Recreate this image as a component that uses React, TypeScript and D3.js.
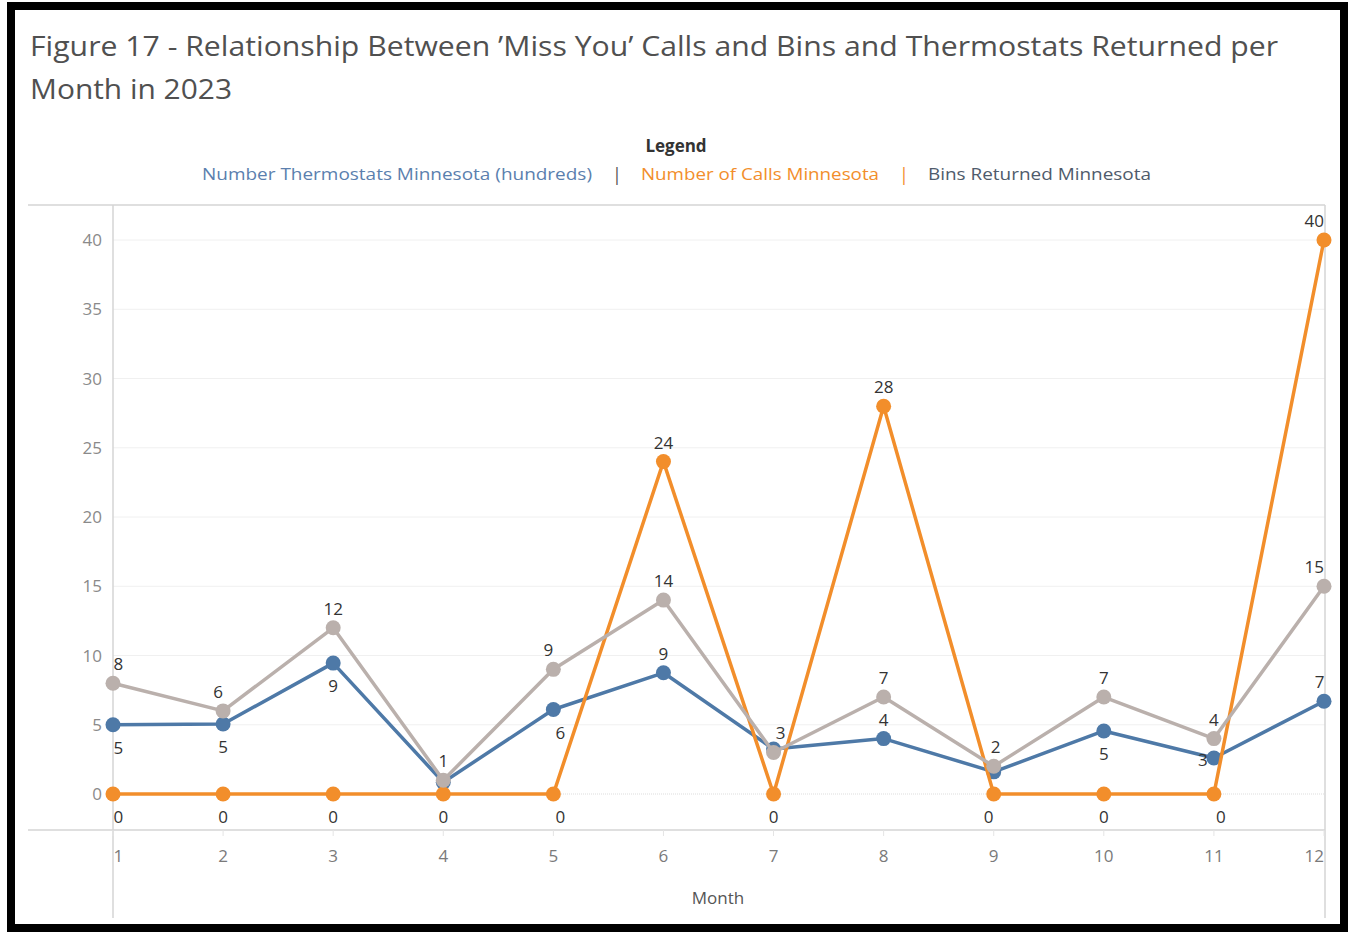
import * as d3 from "d3";

// chart data
const months = [1, 2, 3, 4, 5, 6, 7, 8, 9, 10, 11, 12];
const thermostats = [5.0, 5.05, 9.45, 0.85, 6.1, 8.75, 3.25, 4.0, 1.6, 4.55, 2.6, 6.7];
const calls = [0, 0, 0, 0, 0, 24, 0, 28, 0, 0, 0, 40];
const bins = [8, 6, 12, 1, 9, 14, 3, 7, 2, 7, 4, 15];
const yTicks = [0, 5, 10, 15, 20, 25, 30, 35, 40];

const titleLines = [
  "Figure 17 - Relationship Between \u2019Miss You\u2019 Calls and Bins and Thermostats Returned per",
  "Month in 2023",
];
const legendNames = [
  "Number Thermostats Minnesota (hundreds)",
  "Number of Calls Minnesota",
  "Bins Returned Minnesota",
];

// where each value label sits (Tableau-ish placement, null = hidden)
type Place = "above" | "below" | "left" | null;
const thermoPlace: Place[] = ["below", "below", "below", null, "below", "above", null, "above", null, "below", "left", "above"];
const callsPlace: Place[] = calls.map((v) => (v > 0 ? "above" : "below"));
const binsPlace: Place[] = bins.map(() => "above");
const thermoNudge = [0, 0, 0, 0, 7, 0, 0, 0, 0, 0, 0, 0];
const callsNudge = [0, 0, 0, 0, 7, 0, 0, 0, -5, 0, 7, 0];
const binsNudge = [0, -5, 0, 0, -5, 0, 7, 0, 2, 0, 0, 0];

const W = 1353;
const H = 932;
const PANE = { left: 113, right: 1325, top: 205, bottom: 830 };
const COLORS = { thermo: "#4e79a7", calls: "#f28e2b", bins: "#bab0ac" };
const FONT = "'Open Sans', 'DejaVu Sans', sans-serif";

interface Series {
  key: string;
  values: number[];
  color: string;
  place: Place[];
  nudge: number[];
}

function App() {
  const x = d3.scaleLinear().domain([1, 12]).range([PANE.left, PANE.right - 1]);
  const y = d3.scaleLinear().domain([0, 40]).range([794, 240]);

  const series: Series[] = [
    { key: "thermo", values: thermostats, color: COLORS.thermo, place: thermoPlace, nudge: thermoNudge },
    { key: "calls", values: calls, color: COLORS.calls, place: callsPlace, nudge: callsNudge },
    { key: "bins", values: bins, color: COLORS.bins, place: binsPlace, nudge: binsNudge },
  ];

  const line = d3
    .line<number>()
    .x((_, i) => x(months[i]))
    .y((d) => y(d));

  // keep labels inside the pane like Tableau does
  const clampX = (cx: number, text: string) => {
    const half = text.length * 5.4;
    return Math.max(PANE.left + half, Math.min(PANE.right - half, cx));
  };

  const labelFor = (s: Series, i: number) => {
    const p = s.place[i];
    if (!p) return null;
    const v = s.values[i];
    const text = String(Math.round(v));
    let lx = x(months[i]) + s.nudge[i];
    let ly = y(v);
    if (p === "above") ly -= 13;
    else if (p === "below") ly += 29;
    else {
      lx -= 11;
      ly += 8;
    }
    return (
      <text
        key={s.key + i}
        x={clampX(lx, text)}
        y={ly}
        textAnchor="middle"
        fontSize={17}
        fill="#333"
        fontFamily={FONT}
      >
        {text}
      </text>
    );
  };

  const legendX = [202, 641, 928];
  const legendW = [390, 238, 223];
  const legendColors = ["#5b7fae", "#f28e2b", "#4f5b6b"];
  const titleW = [1248, 202];

  return (
    <div style={{ position: "absolute", left: 0, top: 0 }}>
      <svg width={W} height={H} style={{ display: "block", background: "#fff" }}>
        {/* frame */}
        <rect x={0} y={0} width={W} height={H} fill="#fff" />
        <rect x={11} y={6} width={1333} height={922} fill="none" stroke="#000" strokeWidth={8} />

        {/* title */}
        {titleLines.map((t, i) => (
          <text
            key={i}
            x={30}
            y={56 + i * 43}
            fontSize={27}
            fill="#505050"
            fontFamily={FONT}
            textLength={titleW[i]}
            lengthAdjust="spacingAndGlyphs"
          >
            {t}
          </text>
        ))}

        {/* legend */}
        <text x={676} y={152} textAnchor="middle" fontSize={17} fontWeight="bold" fill="#333" fontFamily={FONT}>
          Legend
        </text>
        {legendNames.map((n, i) => (
          <text
            key={n}
            x={legendX[i]}
            y={180}
            fontSize={17}
            fill={legendColors[i]}
            fontFamily={FONT}
            textLength={legendW[i]}
            lengthAdjust="spacingAndGlyphs"
          >
            {n}
          </text>
        ))}
        <text x={617} y={181} textAnchor="middle" fontSize={18} fill="#555" fontFamily={FONT}>|</text>
        <text x={904} y={181} textAnchor="middle" fontSize={18} fill={COLORS.calls} fontFamily={FONT}>|</text>

        {/* grid */}
        {yTicks.map((t) => (
          <line
            key={t}
            x1={PANE.left}
            x2={PANE.right}
            y1={y(t)}
            y2={y(t)}
            stroke={t === 0 ? "#ddd" : "#f0f0f0"}
            strokeDasharray={t === 0 ? "1,1" : undefined}
          />
        ))}

        {/* pane borders & axes */}
        <line x1={28} x2={PANE.right} y1={PANE.top} y2={PANE.top} stroke="#d4d4d4" strokeWidth={1.5} />
        <line x1={28} x2={PANE.right} y1={PANE.bottom} y2={PANE.bottom} stroke="#d4d4d4" strokeWidth={1.5} />
        <line x1={PANE.left} x2={PANE.left} y1={PANE.top} y2={918} stroke="#d4d4d4" strokeWidth={1.5} />
        <line x1={PANE.right} x2={PANE.right} y1={PANE.top} y2={918} stroke="#d4d4d4" strokeWidth={1.5} />

        {/* y tick labels */}
        {yTicks.map((t) => (
          <text key={t} x={102} y={y(t) + 6} textAnchor="end" fontSize={17} fill="#8a8a8a" fontFamily={FONT}>
            {t}
          </text>
        ))}

        {/* x ticks */}
        {months.map((m) => (
          <g key={m}>
            <line x1={x(m)} x2={x(m)} y1={PANE.bottom} y2={PANE.bottom + 6} stroke="#e4e4e4" />
            <text
              x={clampX(x(m), String(m))}
              y={862}
              textAnchor="middle"
              fontSize={17}
              fill="#7a7a7a"
              fontFamily={FONT}
            >
              {m}
            </text>
          </g>
        ))}
        <text x={718} y={904} textAnchor="middle" fontSize={17} fill="#555" fontFamily={FONT}>
          Month
        </text>

        {/* lines & markers */}
        {series.map((s) => (
          <g key={s.key}>
            <path d={line(s.values) as string} fill="none" stroke={s.color} strokeWidth={3.5} strokeLinejoin="round" />
            {s.values.map((v, i) => (
              <circle key={i} cx={x(months[i])} cy={y(v)} r={7.5} fill={s.color} />
            ))}
          </g>
        ))}

        {/* value labels */}
        {series.map((s) => s.values.map((_, i) => labelFor(s, i)))}
      </svg>
    </div>
  );
}

export default App;
